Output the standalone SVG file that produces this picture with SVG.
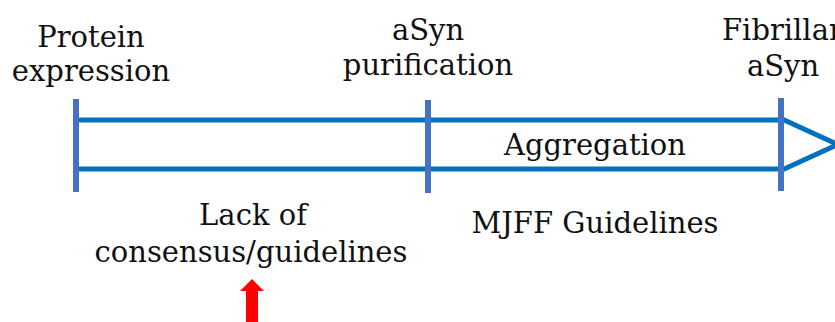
<svg xmlns="http://www.w3.org/2000/svg" width="835" height="322" viewBox="0 0 835 322">
<style>
text{font-family:"DejaVu Serif","Liberation Serif",serif;font-size:29px;fill:#111;text-anchor:middle}
.rail{stroke:#0070C0;stroke-width:5;fill:none}
.tick{stroke:#4472C4;stroke-width:6}
</style>
<rect width="835" height="322" fill="#fff"/>
<g id="connectors">
<line class="rail" x1="76" y1="120" x2="782" y2="120"/>
<line class="rail" x1="76" y1="169" x2="782" y2="169"/>
<polyline class="rail" points="782,119 838,144.5 782,170" stroke-linejoin="miter"/>
<polygon id="red-arrow" points="252,279 264,291 258,291 258,322 246,322 246,291 240,291" fill="#FF0000"/>
</g>
<g id="protein-expression">
<line class="tick" x1="76" y1="99" x2="76" y2="192"/>
<text x="91" y="47">Protein</text>
<text x="91" y="81">expression</text>
</g>
<g id="asyn-purification">
<line class="tick" x1="428" y1="100" x2="428" y2="193"/>
<text x="428" y="40">aSyn</text>
<text x="428" y="75">purification</text>
</g>
<g id="fibrillar-asyn">
<line class="tick" x1="781" y1="98" x2="781" y2="191"/>
<text x="722" y="40" style="text-anchor:start">Fibrillar</text>
<text x="783" y="76">aSyn</text>
</g>
<g id="aggregation"><text x="595" y="155">Aggregation</text></g>
<g id="lack"><text x="253" y="225">Lack of</text><text x="251" y="262">consensus/guidelines</text></g>
<g id="mjff"><text x="595" y="233">MJFF Guidelines</text></g>
</svg>
